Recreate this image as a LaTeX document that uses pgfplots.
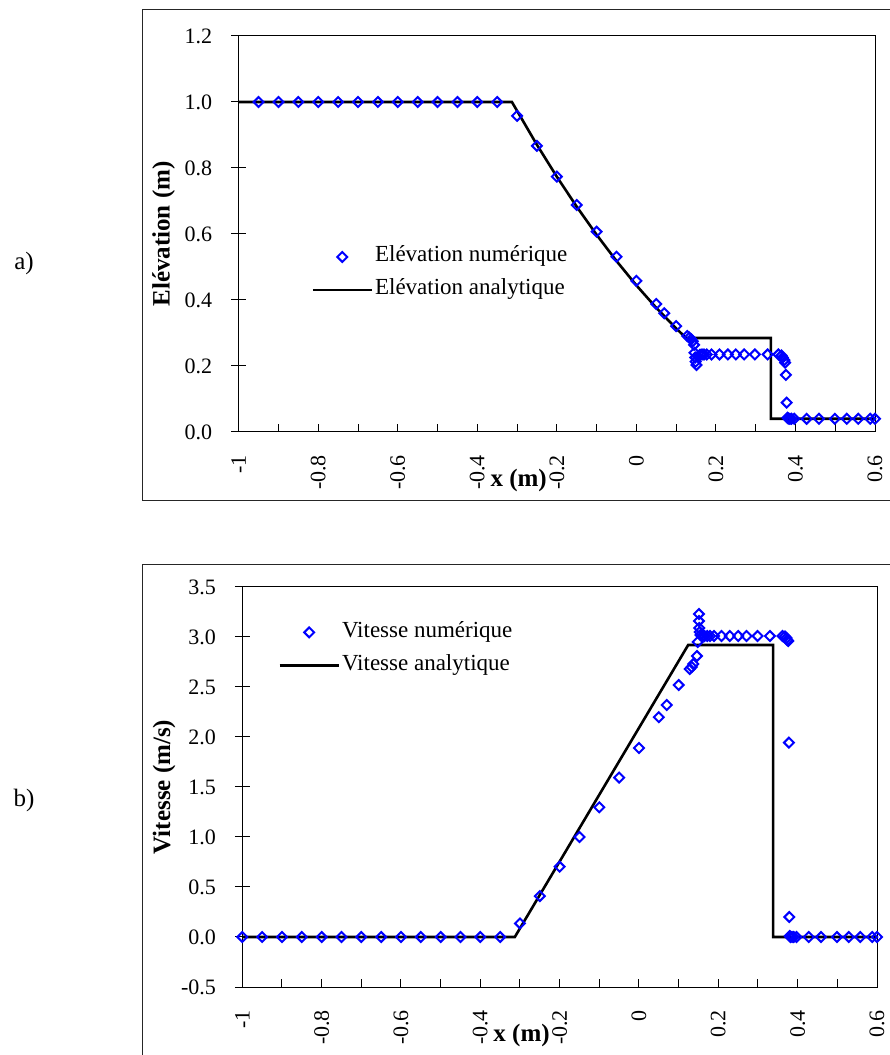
\documentclass[border=0pt]{standalone}
\usepackage{fontspec}
\setmainfont{Liberation Serif}
\usepackage{pgfplots}
\pgfplotsset{compat=1.18}
\definecolor{mkblue}{RGB}{0,0,255}
\pgfplotsset{
  mystyle/.style={
    scale only axis, xmin=-1, xmax=0.6, clip=false,
    xtick={-1,-0.9,-0.8,-0.7,-0.6,-0.5,-0.4,-0.3,-0.2,-0.1,0,0.1,0.2,0.3,0.4,0.5,0.6},
    xticklabels={-1,,-0.8,,-0.6,,-0.4,,-0.2,,0,,0.2,,0.4,,0.6},
    xtick pos=bottom, ytick pos=left,
    tick align=inside, major tick length=7.5pt,
    ytick style={xshift=-3.75pt},
    xtick style={/pgfplots/major tick length=4pt},
    tick style={black, line width=0.5pt},
    axis line style={line width=0.5pt},
    ticklabel style={font=\fontsize{11}{13}\selectfont},
    xticklabel style={rotate=90, anchor=east},
    xticklabel shift=8pt, yticklabel shift=9.7pt,
    xlabel={x (m)},
    label style={font=\bfseries\fontsize{12.5}{14}\selectfont},
    xlabel style={at={(axis description cs:0.44,0)}, anchor=center, yshift=-24pt},
    legend style={anchor=north west, draw=none, fill=none, inner sep=0pt,
      font=\fontsize{11.5}{13}\selectfont, row sep=3.5pt,
      nodes={inner sep=1pt, text height=8pt, text depth=3pt},
      /tikz/every even column/.append style={column sep=1pt}},
    legend cell align=left,
    reverse legend,
  },
  anal/.style={black, line width=1.3pt,
    legend image code/.code={\draw[##1] (0pt,0pt) -- (29.5pt,0pt);}},
  numer/.style={only marks, mark=square, mark size=1.75pt,
    mark options={rotate=45, draw=mkblue, line width=1pt, fill=none},
    legend image code/.code={\path[draw=none] (0pt,0pt) -- (29.5pt,0pt); \draw[##1] plot coordinates {(14.75pt,0pt)};}},
}
\begin{document}
\begin{tikzpicture}
\path[use as bounding box] (0,0) rectangle (444.5pt,527.5pt);
\draw[line width=0.5pt, black!85] (71.35pt,277.15pt) rectangle (447pt,522.85pt);
\draw[line width=0.5pt, black!85] (71pt,-3pt) rectangle (447pt,245pt);
\node[font=\fontsize{12.5}{14}\selectfont] at (12pt,396pt) {a)};
\node[font=\fontsize{12.5}{14}\selectfont] at (12pt,127.5pt) {b)};

\begin{axis}[mystyle, at={(119.35pt,311.5pt)}, anchor=south west,
  width=318.15pt, height=198pt, ymin=0, ymax=1.2,
  ytick={0,0.2,0.4,0.6,0.8,1.0,1.2}, yticklabels={0.0,0.2,0.4,0.6,0.8,1.0,1.2},
  ylabel={Elévation (m)},
  ylabel style={at={(axis description cs:-0.118,0.5)}, anchor=center},
  legend style={at={(axis cs:-0.818,0.571)}}]
\addplot[anal] coordinates {(-1,1) (-0.313,1) (-0.25,0.870) (-0.2,0.7735) (-0.15,0.6827) (-0.1,0.5977) (-0.05,0.5182) (0,0.4444) (0.05,0.3763) (0.1,0.3139) (0.125,0.2847) (0.338,0.2847) (0.338,0.04) (0.6,0.04)};
\addplot[numer] coordinates {
(-0.95,1) (-0.9,1) (-0.85,1) (-0.8,1) (-0.75,1) (-0.7,1) (-0.65,1) (-0.6,1) (-0.55,1) (-0.5,1) (-0.45,1) (-0.4,1) (-0.35,1)
(-0.3,0.958) (-0.25,0.867) (-0.2,0.774) (-0.15,0.688) (-0.1,0.607) (-0.05,0.531) (0,0.458) (0.05,0.388) (0.07,0.36) (0.1,0.321)
(0.128,0.291) (0.133,0.286) (0.138,0.281) (0.142,0.275) (0.145,0.264) (0.146,0.24) (0.148,0.226) (0.149,0.213) (0.151,0.203)
(0.155,0.228) (0.16,0.234) (0.165,0.235) (0.17,0.235) (0.177,0.235) (0.189,0.235) (0.209,0.235) (0.23,0.235) (0.25,0.235)
(0.271,0.235) (0.298,0.235) (0.33,0.235) (0.357,0.235) (0.365,0.232) (0.368,0.226) (0.372,0.218) (0.374,0.21) (0.376,0.173)
(0.378,0.089) (0.38,0.043) (0.382,0.041) (0.386,0.04) (0.39,0.04) (0.397,0.04) (0.428,0.04) (0.459,0.04) (0.499,0.04)
(0.529,0.04) (0.558,0.04) (0.588,0.04) (0.6,0.04)};
\legend{Elévation analytique, Elévation numérique}
\end{axis}

\begin{axis}[mystyle, at={(121.15pt,34pt)}, anchor=south west,
  width=317.35pt, height=200pt, ymin=-0.5, ymax=3.5,
  ytick={-0.5,0,0.5,1,1.5,2,2.5,3,3.5}, yticklabels={-0.5,0.0,0.5,1.0,1.5,2.0,2.5,3.0,3.5},
  ylabel={Vitesse (m/s)},
  ylabel style={at={(axis description cs:-0.123,0.5)}, anchor=center},
  legend style={at={(axis cs:-0.91,3.18)}}]
\addplot[anal] coordinates {(-1,0) (-0.313,0) (0.124,2.92) (0.338,2.92) (0.338,0) (0.6,0)};
\addplot[numer] coordinates {
(-1,0) (-0.95,0) (-0.9,0) (-0.85,0) (-0.8,0) (-0.75,0) (-0.7,0) (-0.65,0) (-0.6,0) (-0.55,0) (-0.5,0) (-0.45,0) (-0.4,0) (-0.35,0)
(-0.3,0.136) (-0.25,0.409) (-0.2,0.703) (-0.15,1.0) (-0.1,1.297) (-0.05,1.594) (0,1.89) (0.05,2.198) (0.07,2.32) (0.1,2.52)
(0.128,2.68) (0.133,2.70) (0.137,2.73) (0.146,2.81) (0.148,2.95) (0.151,3.23) (0.151,3.16) (0.152,3.09) (0.153,3.05) (0.155,3.02)
(0.16,3.01) (0.165,3.01) (0.172,3.01) (0.179,3.01) (0.189,3.01) (0.208,3.01) (0.229,3.01) (0.25,3.01) (0.271,3.01) (0.299,3.01)
(0.33,3.01) (0.362,3.01) (0.368,3.005) (0.372,2.99) (0.374,2.97) (0.376,2.96) (0.378,1.944) (0.379,0.2) (0.38,0.01) (0.382,0)
(0.386,0) (0.39,0) (0.397,0) (0.428,0) (0.459,0) (0.499,0) (0.529,0) (0.558,0) (0.588,0) (0.6,0)};
\legend{Vitesse analytique, Vitesse numérique}
\end{axis}
\end{tikzpicture}
\end{document}
